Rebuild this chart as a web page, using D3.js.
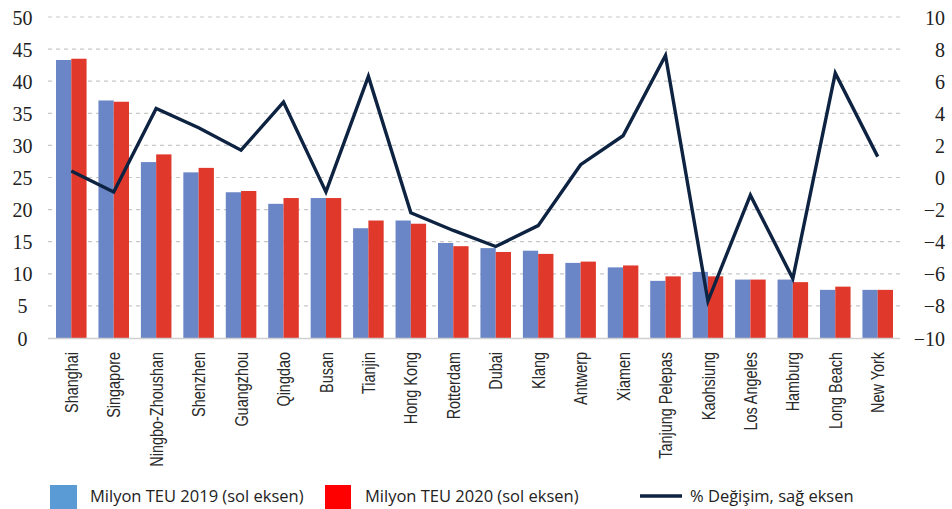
<!DOCTYPE html>
<html>
<head>
<meta charset="utf-8">
<script src="https://cdn.jsdelivr.net/npm/d3@7"></script>
<style>
  body { margin: 0; background: #fff; }
  svg { display: block; }
</style>
</head>
<body>
<svg id="chart" width="952" height="509"></svg>
<script>
// ports, TEU (million) and % change
const ports = ["Shanghai", "Singapore", "Ningbo-Zhoushan", "Shenzhen", "Guangzhou", "Qingdao",
  "Busan", "Tianjin", "Hong Kong", "Rotterdam", "Dubai", "Klang", "Antwerp", "Xiamen",
  "Tanjung Pelepas", "Kaohsiung", "Los Angeles", "Hamburg", "Long Beach", "New York"];
const teu2019 = [43.3, 37.0, 27.4, 25.8, 22.7, 20.9, 21.8, 17.1, 18.3, 14.8, 14.0, 13.6, 11.7, 11.0, 8.9, 10.3, 9.1, 9.1, 7.5, 7.5];
const teu2020 = [43.5, 36.8, 28.6, 26.5, 22.9, 21.8, 21.8, 18.3, 17.8, 14.3, 13.4, 13.1, 11.9, 11.3, 9.6, 9.6, 9.1, 8.7, 8.0, 7.5];
const pctChange = [0.4, -0.9, 4.3, 3.1, 1.7, 4.7, -0.9, 6.3, -2.2, -3.3, -4.3, -3.0, 0.8, 2.6, 7.6, -7.7, -1.1, -6.3, 6.5, 1.3];
const leftTicks = [0, 5, 10, 15, 20, 25, 30, 35, 40, 45, 50];
const rightTicks = [-10, -8, -6, -4, -2, 0, 2, 4, 6, 8, 10];
const legendLabels = ["Milyon TEU 2019 (sol eksen)", "Milyon TEU 2020 (sol eksen)", "% Değişim, sağ eksen"];

const svg = d3.select("#chart");
const plot = {left: 48, right: 900, top: 17, bottom: 338};

const x = d3.scaleBand().domain(ports).range([56, 893]).paddingInner(0.28).paddingOuter(0);
const xSub = d3.scaleBand().domain(["2019", "2020"]).range([0, x.bandwidth()]);
const yL = d3.scaleLinear().domain([0, 50]).range([plot.bottom, plot.top]);
const yR = d3.scaleLinear().domain([-10, 10]).range([plot.bottom, plot.top]);

// grid
svg.append("g").selectAll("line")
  .data(leftTicks.filter(d => d > 0))
  .join("line")
  .attr("x1", plot.left).attr("x2", plot.right)
  .attr("y1", d => yL(d)).attr("y2", d => yL(d))
  .attr("stroke", "#c8c8c8").attr("stroke-width", 1.2)
  .attr("stroke-dasharray", "4,4");

// left axis
const axL = d3.axisLeft(yL).tickValues(leftTicks).tickSize(0).tickPadding(0);
const gL = svg.append("g").attr("transform", "translate(22.5,0)").call(axL);
gL.select(".domain").remove();
gL.selectAll("text").attr("text-anchor", "middle").attr("dy", "0.35em")
  .style("font-family", "'Liberation Serif', 'DejaVu Serif', serif").style("font-size", "20px").attr("fill", "#222");

// right axis
const axR = d3.axisRight(yR).tickValues(rightTicks).tickSize(0).tickPadding(0);
const gR = svg.append("g").attr("transform", "translate(945,0)").call(axR);
gR.select(".domain").remove();
gR.selectAll("text").attr("text-anchor", "end").attr("dy", "0.35em")
  .style("font-family", "'Liberation Serif', 'DejaVu Serif', serif").style("font-size", "20px").attr("fill", "#222");

// bars
const groups = svg.append("g").selectAll("g")
  .data(ports)
  .join("g")
  .attr("transform", d => `translate(${x(d)},0)`);

groups.append("rect")
  .attr("x", xSub("2019")).attr("width", xSub.bandwidth())
  .attr("y", (d, i) => yL(teu2019[i])).attr("height", (d, i) => yL(0) - yL(teu2019[i]))
  .attr("fill", "#6a86c6");
groups.append("rect")
  .attr("x", xSub("2020")).attr("width", xSub.bandwidth())
  .attr("y", (d, i) => yL(teu2020[i])).attr("height", (d, i) => yL(0) - yL(teu2020[i]))
  .attr("fill", "#e0382b");

// baseline
svg.append("line")
  .attr("x1", plot.left).attr("x2", plot.right)
  .attr("y1", plot.bottom + 0.5).attr("y2", plot.bottom + 0.5)
  .attr("stroke", "#d0d0d0").attr("stroke-width", 1.5);

// x labels (condensed look via horizontal squeeze)
const axX = d3.axisBottom(x).tickSize(0).tickPadding(0);
const gX = svg.append("g").attr("transform", `translate(0,${plot.bottom})`).call(axX);
gX.select(".domain").remove();
gX.selectAll("text")
  .attr("transform", "translate(0,14) rotate(-90) scale(0.76,1)")
  .attr("text-anchor", "end").attr("x", 0).attr("y", 0).attr("dy", "0.35em")
  .style("font-family", "'Liberation Sans', Arial, sans-serif")
  .style("font-size", "19px").attr("fill", "#2a2a2a");

// % change line
const line = d3.line()
  .x((d, i) => x(ports[i]) + x.bandwidth() / 2)
  .y(d => yR(d));
svg.append("path")
  .datum(pctChange)
  .attr("d", line)
  .attr("fill", "none").attr("stroke", "#0d2341").attr("stroke-width", 3.4)
  .attr("stroke-linejoin", "miter");

// legend
const leg = svg.append("g").style("font-family", "'Open Sans', sans-serif").style("font-size", "16.5px");
leg.append("rect").attr("x", 50).attr("y", 485).attr("width", 27).attr("height", 26).attr("fill", "#5b9bd5");
leg.append("text").attr("x", 90).attr("y", 502).text(legendLabels[0]).attr("fill", "#222");
leg.append("rect").attr("x", 325).attr("y", 485).attr("width", 26).attr("height", 26).attr("fill", "#ff0000");
leg.append("text").attr("x", 365).attr("y", 502).text(legendLabels[1]).attr("fill", "#222");
leg.append("line").attr("x1", 640).attr("x2", 682).attr("y1", 496).attr("y2", 496)
  .attr("stroke", "#0d2341").attr("stroke-width", 3.4);
leg.append("text").attr("x", 690).attr("y", 502).text(legendLabels[2]).attr("fill", "#222");
</script>
</body>
</html>
